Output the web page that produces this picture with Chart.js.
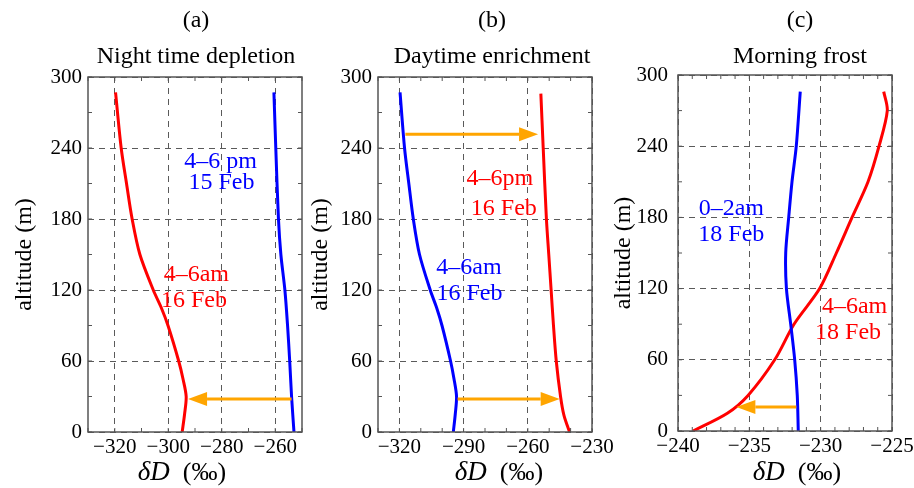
<!DOCTYPE html>
<html><head><meta charset="utf-8">
<script src="https://cdn.jsdelivr.net/npm/chart.js@4.4.1/dist/chart.umd.min.js"></script>
<style>
html,body{margin:0;padding:0;width:914px;height:488px;overflow:hidden;background:#fff;}
canvas{position:absolute;top:0;}
</style></head><body>
<canvas id="ca" width="392" height="488" style="left:0px"></canvas>
<canvas id="cb" width="384" height="488" style="left:300px"></canvas>
<canvas id="cc" width="390" height="488" style="left:605px"></canvas>
<script>
// ---------------- data ----------------
// 4–6am 16 Feb profile (red in (a), blue in (b))
const alt_am16 = [0, 15, 30, 45, 60, 90, 105, 120, 150, 180, 210, 240, 287];
const dD_am16  = [-294.8, -293.9, -293.3, -294.5, -296.1, -300.1, -302.6, -305.6, -310.6, -313.5, -315.6, -317.6, -319.7];
// 4–6 pm 15 Feb (blue in (a))
const alt_pm15 = [0, 30, 60, 90, 120, 150, 180, 240, 287];
const dD_pm15  = [-253.0, -253.9, -254.6, -255.4, -256.4, -257.9, -258.8, -259.8, -260.5];
// 4–6pm 16 Feb (red in (b))
const alt_pm16 = [0, 14, 30, 60, 90, 120, 150, 180, 240, 286];
const dD_pm16  = [-240.5, -243.1, -244.7, -246.7, -248.0, -249.1, -250.2, -251.3, -252.8, -253.9];
// 0–2am 18 Feb (blue in (c))
const alt_am0_18 = [0, 30, 60, 90, 120, 150, 180, 210, 240, 286];
const dD_am0_18  = [-231.57, -231.64, -231.82, -232.10, -232.40, -232.45, -232.24, -232.01, -231.71, -231.43];
// 4–6am 18 Feb (red in (c))
const alt_am4_18 = [0, 15, 30, 60, 90, 120, 150, 180, 210, 240, 270, 286];
const dD_am4_18  = [-238.95, -236.54, -235.09, -233.22, -231.87, -230.07, -228.90, -227.80, -226.68, -225.91, -225.33, -225.58];

// arrows: [from δD, to δD, altitude]
const arrowsA = [[-253.9, -292.6, 27.9]];
const arrowsB = [[-317.2, -255.2, 251.6], [-292.8, -245.1, 27.9]];
const arrowsC = [[-231.71, -235.91, 20.2]];

// text labels: [text, δD, altitude]
const notesA = [['4–6 pm', -280.4, 228.2], ['15 Feb', -280.1, 210.4], ['4–6am', -289.5, 132.7], ['16 Feb', -290.4, 111.0]];
const notesB = [['4–6am', -287.5, 139.0], ['16 Feb', -287.3, 117.0], ['4–6pm', -273.1, 214.4], ['16 Feb', -271.2, 189.0]];
const notesC = [['0–2am', -236.26, 187.7], ['18 Feb', -236.26, 165.2], ['4–6am', -227.62, 105.0], ['18 Feb', -228.08, 82.6]];

// ticks
const yTicks  = [0, 60, 120, 180, 240, 300];
const xTicksA = [-320, -300, -280, -260];
const xTicksB = [-320, -290, -260, -230];
const xTicksC = [-240, -235, -230, -225];

const panelLabels = ['(a)', '(b)', '(c)'];
const panelTitles = ['Night time depletion', 'Daytime enrichment', 'Morning frost'];
const xTitleItalic = 'δD', xTitleUnit = '(‰)';

// ---------------- styling ----------------
const FONT = "'Liberation Serif', 'Times New Roman', serif";
const RED = '#ff0000', BLUE = '#0000ff', ORANGE = '#ffa500', GRID = '#5a5a5a';
const fmt = v => (v < 0 ? '\u2212' + Math.abs(v) : String(v));

const decor = {
  id: 'decor',
  afterDatasetsDraw(chart, args, o) {
    const {ctx, chartArea: a, scales: {x, y}} = chart;
    ctx.save();
    // minor ticks (inward)
    ctx.strokeStyle = '#555'; ctx.lineWidth = 1;
    const xs = x.options.min, xe = x.options.max;
    for (let k = 0; ; k++) {
      const v = xs + k * o.xMinor; if (v > xe + 1e-9) break;
      const px = x.getPixelForValue(v);
      ctx.beginPath(); ctx.moveTo(px, a.bottom); ctx.lineTo(px, a.bottom - 4);
      ctx.moveTo(px, a.top); ctx.lineTo(px, a.top + 4); ctx.stroke();
    }
    for (let k = 0; ; k++) {
      const v = k * 30; if (v > 300) break;
      const py = y.getPixelForValue(v);
      ctx.beginPath(); ctx.moveTo(a.left, py); ctx.lineTo(a.left + 4, py);
      ctx.moveTo(a.right, py); ctx.lineTo(a.right - 4, py); ctx.stroke();
    }
    // frame
    ctx.strokeStyle = '#555'; ctx.lineWidth = 1.5;
    ctx.strokeRect(a.left, a.top, a.width, a.height);
    // arrows
    ctx.strokeStyle = ORANGE; ctx.fillStyle = ORANGE; ctx.lineWidth = 3;
    o.arrows.forEach(([x0, x1, alt]) => {
      const p0 = x.getPixelForValue(x0), p1 = x.getPixelForValue(x1), py = y.getPixelForValue(alt);
      const dir = Math.sign(p1 - p0), hl = 19, hw = 7;
      ctx.beginPath(); ctx.moveTo(p0, py); ctx.lineTo(p1 - dir * hl, py); ctx.stroke();
      ctx.beginPath(); ctx.moveTo(p1, py); ctx.lineTo(p1 - dir * hl, py - hw); ctx.lineTo(p1 - dir * hl, py + hw); ctx.closePath(); ctx.fill();
    });
    // text notes
    ctx.font = '24px ' + FONT; ctx.textAlign = 'center'; ctx.textBaseline = 'middle';
    o.notes.forEach(([t, vx, alt], i) => {
      ctx.fillStyle = o.noteColors[i];
      ctx.fillText(t, x.getPixelForValue(vx), y.getPixelForValue(alt));
    });
    // x axis title: italic δD + upright (‰)
    ctx.fillStyle = '#000'; ctx.textAlign = 'left'; ctx.textBaseline = 'middle';
    ctx.font = 'italic 27px ' + FONT; const w1 = ctx.measureText(xTitleItalic).width;
    ctx.font = '26px ' + FONT; const w2 = ctx.measureText(xTitleUnit).width;
    const gap = 13, tot = w1 + gap + w2;
    const cx = (a.left + a.right) / 2 + o.xTitleShift, cy = 473;
    ctx.font = 'italic 27px ' + FONT; ctx.fillText(xTitleItalic, cx - tot / 2, cy);
    ctx.font = '26px ' + FONT; ctx.fillText(xTitleUnit, cx - tot / 2 + w1 + gap, cy);
    ctx.restore();
  }
};

function panel(id, p) {
  return new Chart(document.getElementById(id), {
    type: 'line',
    data: {
      datasets: p.series.map(s => ({
        data: s.dD.map((v, i) => ({x: v, y: s.alt[i]})),
        borderColor: s.color, borderWidth: 3, pointRadius: 0, tension: 0.3, fill: false
      }))
    },
    plugins: [decor],
    options: {
      responsive: false, animation: false, devicePixelRatio: 1,
      layout: {padding: 0},
      plugins: {
        legend: {display: false}, tooltip: {enabled: false},
        title: {display: true, text: p.label, color: '#000', font: {family: FONT, size: 24, weight: 'normal'}, padding: {top: 6.6, bottom: 0}},
        subtitle: {display: true, text: p.title, color: '#000', font: {family: FONT, size: 24, weight: 'normal'}, padding: {top: 7.2, bottom: p.subBottom}},
        decor: {arrows: p.arrows, notes: p.notes, noteColors: p.noteColors, xMinor: p.xMinor, xTitleShift: p.xTitleShift}
      },
      scales: {
        x: {
          type: 'linear', position: 'bottom', min: p.xMin, max: p.xMax,
          afterBuildTicks: s => { s.ticks = p.xTicks.map(v => ({value: v})); },
          afterFit: s => { s.height = p.xAxisH; },
          grid: {drawTicks: false, color: GRID, lineWidth: 1},
          border: {display: false, dash: [6, 5]},
          ticks: {autoSkip: false, maxRotation: 0, padding: 2.4, color: '#000', font: {family: FONT, size: 21}, callback: fmt},
          title: {display: false}
        },
        y: {
          type: 'linear', position: 'left', min: 0, max: 300,
          afterBuildTicks: s => { s.ticks = yTicks.map(v => ({value: v})); },
          afterFit: s => { s.width = p.yAxisW; },
          grid: {drawTicks: false, color: GRID, lineWidth: 1},
          border: {display: false, dash: [6, 5]},
          ticks: {autoSkip: false, padding: p.yTickPad, color: '#000', font: {family: FONT, size: 21}, callback: fmt},
          title: {display: true, text: 'altitude (m)', color: '#000', font: {family: FONT, size: 24}, padding: {top: p.yTitlePad, bottom: 0}}
        },
        // empty spacer on the right so the (full-width) titles centre where the reference has them
        spacer: {
          type: 'linear', position: 'right', display: true,
          grid: {display: false}, border: {display: false}, ticks: {display: false},
          afterFit: s => { s.width = p.rightW; }
        }
      }
    }
  });
}

panel('ca', {
  label: panelLabels[0], title: panelTitles[0],
  series: [{alt: alt_am16, dD: dD_am16, color: RED}, {alt: alt_pm15, dD: dD_pm15, color: BLUE}],
  xMin: -330, xMax: -250, xTicks: xTicksA, xMinor: 10,
  arrows: arrowsA, notes: notesA, noteColors: [BLUE, BLUE, RED, RED],
  rightW: 90, subBottom: 5.6, xAxisH: 56, yAxisW: 88, yTickPad: 6, yTitlePad: 10.6, xTitleShift: -13
});
panel('cb', {
  label: panelLabels[1], title: panelTitles[1],
  series: [{alt: alt_am16, dD: dD_am16, color: BLUE}, {alt: alt_pm16, dD: dD_pm16, color: RED}],
  xMin: -330, xMax: -230, xTicks: xTicksB, xMinor: 10,
  arrows: arrowsB, notes: notesB, noteColors: [BLUE, BLUE, RED, RED],
  rightW: 92, subBottom: 5.6, xAxisH: 56, yAxisW: 78, yTickPad: 6, yTitlePad: 6.6, xTitleShift: 14
});
panel('cc', {
  label: panelLabels[2], title: panelTitles[2],
  series: [{alt: alt_am0_18, dD: dD_am0_18, color: BLUE}, {alt: alt_am4_18, dD: dD_am4_18, color: RED}],
  xMin: -240, xMax: -225, xTicks: xTicksC, xMinor: 1,
  arrows: arrowsC, notes: notesC, noteColors: [BLUE, BLUE, RED, RED],
  rightW: 103, subBottom: 3.6, xAxisH: 57, yAxisW: 73, yTickPad: 10, yTitlePad: 4.6, xTitleShift: 12
});
</script></body></html>
